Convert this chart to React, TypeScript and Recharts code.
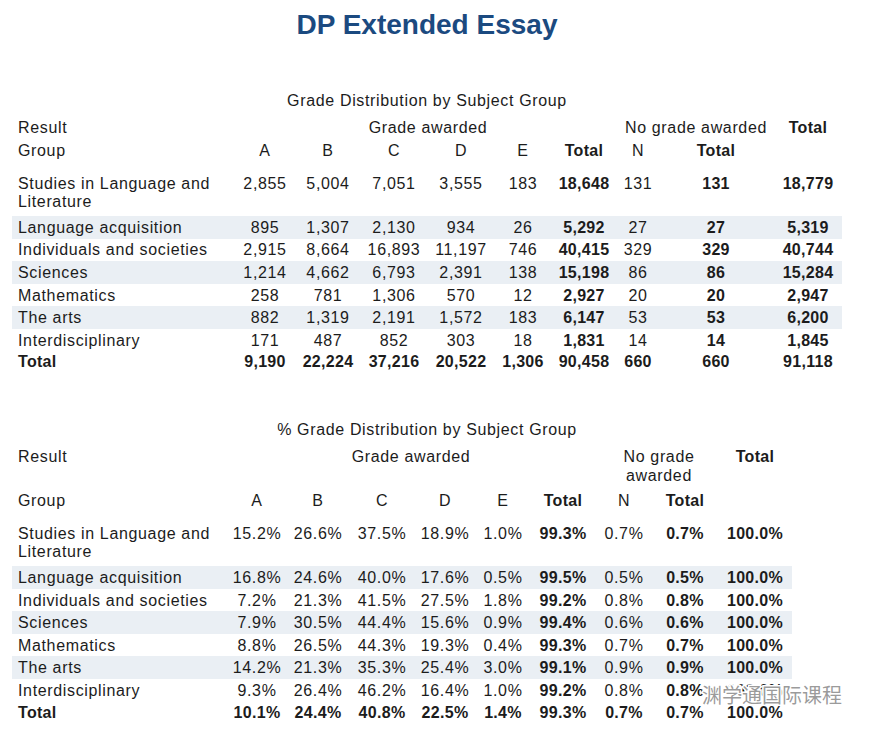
import React from "react";
import { ScatterChart, Scatter, XAxis, YAxis, ReferenceArea } from "recharts";

const pageTitle = "DP Extended Essay";
const tableTitles = ["Grade Distribution by Subject Group", "% Grade Distribution by Subject Group"];
const groups = [
  "Studies in Language and Literature",
  "Language acquisition",
  "Individuals and societies",
  "Sciences",
  "Mathematics",
  "The arts",
  "Interdisciplinary",
];
const colHeads = ["A", "B", "C", "D", "E", "Total", "N", "Total"];
const colBold = [false, false, false, false, false, true, false, true, true];

// counts, one entry per group
const countA = [2855, 895, 2915, 1214, 258, 882, 171];
const countB = [5004, 1307, 8664, 4662, 781, 1319, 487];
const countC = [7051, 2130, 16893, 6793, 1306, 2191, 852];
const countD = [3555, 934, 11197, 2391, 570, 1572, 303];
const countE = [183, 26, 746, 138, 12, 183, 18];
const countGraded = [18648, 5292, 40415, 15198, 2927, 6147, 1831];
const countN = [131, 27, 329, 86, 20, 53, 14];
const countNoGrade = [131, 27, 329, 86, 20, 53, 14];
const countAll = [18779, 5319, 40744, 15284, 2947, 6200, 1845];
const countTotals = [9190, 22224, 37216, 20522, 1306, 90458, 660, 660, 91118];

// percentages, one entry per group
const pctA = [15.2, 16.8, 7.2, 7.9, 8.8, 14.2, 9.3];
const pctB = [26.6, 24.6, 21.3, 30.5, 26.5, 21.3, 26.4];
const pctC = [37.5, 40.0, 41.5, 44.4, 44.3, 35.3, 46.2];
const pctD = [18.9, 17.6, 27.5, 15.6, 19.3, 25.4, 16.4];
const pctE = [1.0, 0.5, 1.8, 0.9, 0.4, 3.0, 1.0];
const pctGraded = [99.3, 99.5, 99.2, 99.4, 99.3, 99.1, 99.2];
const pctN = [0.7, 0.5, 0.8, 0.6, 0.7, 0.9, 0.8];
const pctNoGrade = [0.7, 0.5, 0.8, 0.6, 0.7, 0.9, 0.8];
const pctAll = [100.0, 100.0, 100.0, 100.0, 100.0, 100.0, 100.0];
const pctTotals = [10.1, 24.4, 40.8, 22.5, 1.4, 99.3, 0.7, 0.7, 100.0];

const watermark = "渊学通国际课程";

const W = 874;
const H = 735;
const INK = "#1c1c1c";
const NAVY = "#1b4a80";
const STRIPE = "#eaeff4";
const FONT = "'Liberation Sans', Arial, sans-serif";

const TOP = {
  colX: [265, 328, 394, 461, 523, 584, 638, 716, 808],
  rowY: [183, 227, 249, 272, 295, 317, 340],
  wrapY: 201, totalY: 361, titleY: 100, resultY: 127, groupY: 150,
  gradeX: 428, noGradeX: 696, noGradeLines: ["No grade awarded"], noGradeY: [127], stripeX2: 842,
};
const BOTTOM = {
  colX: [257, 318, 382, 445, 503, 563, 624, 685, 755],
  rowY: [533, 577, 600, 622, 645, 667, 690],
  wrapY: 551, totalY: 712, titleY: 429, resultY: 456, groupY: 500,
  gradeX: 411, noGradeX: 659, noGradeLines: ["No grade", "awarded"], noGradeY: [456, 475], stripeX2: 792,
};

const fmtCount = (v: number) => v.toLocaleString("en-US");
const fmtPct = (v: number) => v.toFixed(1) + "%";

type Cell = { x: number; y: number; text: string; bold?: boolean; anchor?: string; size?: number; color?: string; halo?: boolean };

function buildTable(L: typeof TOP, title: string, cols: number[][], totals: number[], fmt: (v: number) => string): Cell[] {
  const out: Cell[] = [];
  out.push({ x: 427, y: L.titleY, text: title });
  out.push({ x: 18, y: L.resultY, text: "Result", anchor: "start" });
  out.push({ x: L.gradeX, y: L.resultY, text: "Grade awarded" });
  L.noGradeLines.forEach((t, i) => out.push({ x: L.noGradeX, y: L.noGradeY[i], text: t }));
  out.push({ x: L.colX[8], y: L.resultY, text: "Total", bold: true });
  out.push({ x: 18, y: L.groupY, text: "Group", anchor: "start" });
  colHeads.forEach((h, i) => out.push({ x: L.colX[i], y: L.groupY, text: h, bold: h === "Total" }));
  groups.forEach((g, r) => {
    const y = L.rowY[r];
    if (r === 0) {
      out.push({ x: 18, y, text: "Studies in Language and", anchor: "start" });
      out.push({ x: 18, y: L.wrapY, text: "Literature", anchor: "start" });
    } else {
      out.push({ x: 18, y, text: g, anchor: "start" });
    }
    cols.forEach((c, i) => out.push({ x: L.colX[i], y, text: fmt(c[r]), bold: colBold[i] }));
  });
  out.push({ x: 18, y: L.totalY, text: "Total", anchor: "start", bold: true });
  totals.forEach((v, i) => out.push({ x: L.colX[i], y: L.totalY, text: fmt(v), bold: true }));
  return out;
}

const cells: Cell[] = [
  { x: 427, y: 24, text: pageTitle, bold: true, size: 28, color: NAVY },
  ...buildTable(TOP, tableTitles[0],
    [countA, countB, countC, countD, countE, countGraded, countN, countNoGrade, countAll], countTotals, fmtCount),
  ...buildTable(BOTTOM, tableTitles[1],
    [pctA, pctB, pctC, pctD, pctE, pctGraded, pctN, pctNoGrade, pctAll], pctTotals, fmtPct),
  { x: 702, y: 696, text: watermark, anchor: "start", size: 20, color: "rgba(110,110,110,0.7)", halo: true },
];

const CellText = (props: any) => {
  const { cx, cy, payload } = props;
  const size = payload.size ?? 16;
  const body = !payload.halo && size === 16;
  return (
    <text
      x={cx}
      y={cy + size * 0.36}
      textAnchor={payload.anchor ?? "middle"}
      fontSize={size}
      fontWeight={payload.bold ? 700 : 400}
      fill={payload.color ?? INK}
      fontFamily={payload.halo ? "'Noto Sans CJK SC', sans-serif" : FONT}
      letterSpacing={body ? (payload.bold ? 0.3 : 0.65) : 0}
      stroke={payload.halo ? "#ffffff" : "none"}
      strokeWidth={payload.halo ? 3 : 0}
      paintOrder="stroke"
    >
      {payload.text}
    </text>
  );
};

const stripeRows = [1, 3, 5];

export default function App() {
  return (
    <div style={{ width: W, height: H, background: "#fff" }}>
      <style>{"body{margin:0;background:#fff}"}</style>
      <ScatterChart width={W} height={H} margin={{ top: 0, right: 0, bottom: 0, left: 0 }}>
        <XAxis type="number" dataKey="x" domain={[0, W]} hide allowDataOverflow />
        <YAxis type="number" dataKey="y" domain={[0, H]} reversed hide allowDataOverflow />
        {stripeRows.map((r) => (
          <ReferenceArea key={"t" + r} x1={12} x2={TOP.stripeX2} y1={TOP.rowY[r] - 11} y2={TOP.rowY[r] + 12}
            fill={STRIPE} fillOpacity={1} stroke="none" ifOverflow="visible" />
        ))}
        {stripeRows.map((r) => (
          <ReferenceArea key={"b" + r} x1={12} x2={BOTTOM.stripeX2} y1={BOTTOM.rowY[r] - 11} y2={BOTTOM.rowY[r] + 12}
            fill={STRIPE} fillOpacity={1} stroke="none" ifOverflow="visible" />
        ))}
        <Scatter data={cells} shape={CellText} isAnimationActive={false} />
      </ScatterChart>
    </div>
  );
}
